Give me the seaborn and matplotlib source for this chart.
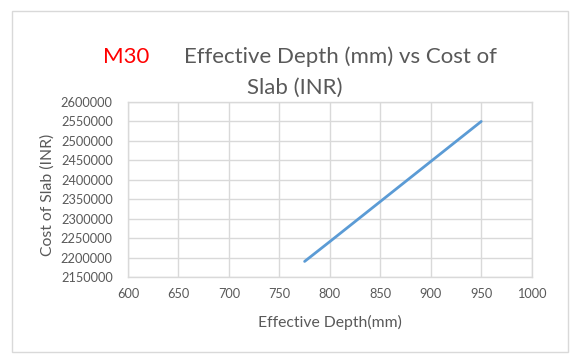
import matplotlib
import pandas as pd
import matplotlib.pyplot as plt
from matplotlib.patches import Rectangle
import seaborn as sns

matplotlib.use('Agg')

depth = [775, 800, 850, 900, 950]
cost = [2190000, 2241000, 2344000, 2447000, 2550000]
x_ticks = [600, 650, 700, 750, 800, 850, 900, 950, 1000]
y_ticks = [2150000, 2200000, 2250000, 2300000, 2350000, 2400000, 2450000, 2500000, 2550000, 2600000]

sns.set_style('white')
plt.rcParams['font.family'] = ['Lato', 'DejaVu Sans']

data = pd.DataFrame({'depth': depth, 'cost': cost})

fig = plt.figure(figsize=(5.8, 3.63), dpi=100)
ax = fig.add_axes([0.2207, 0.237, 0.696, 0.482])
sns.lineplot(data=data, x='depth', y='cost', color='#5b9bd5', linewidth=2, ax=ax)

ax.set_xlim(600, 1000)
ax.set_ylim(2150000, 2600000)
ax.set_xticks(x_ticks)
ax.set_yticks(y_ticks)
ax.set_xticklabels([str(v) for v in x_ticks])
ax.set_yticklabels([str(v) for v in y_ticks])
ax.grid(True, color='#d9d9d9', linewidth=1)
for axis in ['top', 'bottom', 'left', 'right']:
    ax.spines[axis].set_color('#d9d9d9')
    ax.spines[axis].set_linewidth(1)
ax.tick_params(axis='both', length=0, labelsize=9.2, labelcolor='#595959')
ax.tick_params(axis='y', pad=11)
ax.tick_params(axis='x', pad=8)

ax.set_xlabel('Effective Depth(mm)', fontsize=11.3, color='#595959')
ax.set_ylabel('Cost of Slab (INR)', fontsize=11.3, color='#595959')
ax.xaxis.set_label_coords(330 / 580, 1 - 322 / 363, transform=fig.transFigure)
ax.yaxis.set_label_coords(48 / 580, 1 - 195 / 363, transform=fig.transFigure)
ax.xaxis.label.set_va('center')
ax.yaxis.label.set_va('center')

# outer chart frame
fig.patches.append(Rectangle((12 / 580, 1 - 352 / 363), 556 / 580, 341 / 363,
                             transform=fig.transFigure, fill=False,
                             edgecolor='#d9d9d9', linewidth=1))

fig.text(126.5 / 580, 1 - 57 / 363, 'M30', color='red', fontsize=16, va='center', ha='center')
fig.text(340 / 580, 1 - 57 / 363, 'Effective Depth (mm) vs Cost of', color='#595959',
         fontsize=16, va='center', ha='center')
fig.text(295 / 580, 1 - 88 / 363, 'Slab (INR)', color='#595959',
         fontsize=16, va='center', ha='center')

plt.savefig('out.png', dpi=100)
plt.close()
